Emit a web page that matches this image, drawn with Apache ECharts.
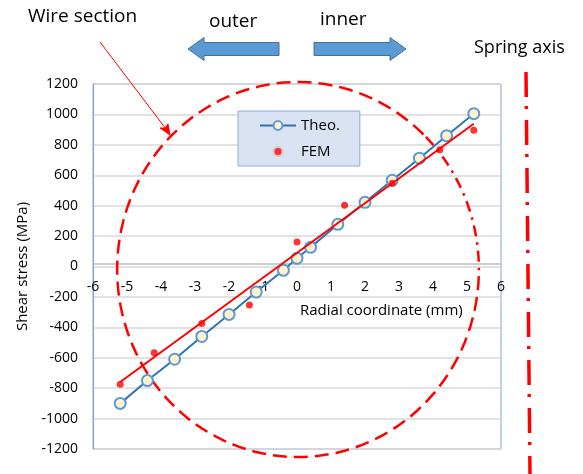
<!DOCTYPE html>
<html>
<head>
<meta charset="utf-8">
<script src="https://cdn.jsdelivr.net/npm/echarts@6/dist/echarts.min.js"></script>
<style>
html,body{margin:0;padding:0;background:#fff;}
#chart{width:583px;height:474px;}
</style>
</head>
<body>
<div id="chart"></div>
<script>
// ---- data ----
const xTheo = [-5.2, -4.4, -3.6, -2.8, -2.0, -1.2, -0.4, 0, 0.4, 1.2, 2.0, 2.8, 3.6, 4.4, 5.2];
const yTheo = [-900, -750, -610, -460, -315, -168, -25, 54, 126, 277, 422, 567, 712, 860, 1005];
const xFem = [-5.2, -4.2, -2.8, -1.4, 0, 1.4, 2.8, 4.2, 5.2];
const yFem = [-775, -567, -374, -253, 161, 403, 547, 768, 896];
const xTickLabels = ['-6','-5','-4','-3','-2','-1','0','1','2','3','4','5','6'];
const yTickLabels = ['-1200','-1000','-800','-600','-400','-200','0','200','400','600','800','1000','1200'];
const seriesNames = ['Theo.', 'FEM'];
const xAxisTitle = 'Radial coordinate (mm)';
const yAxisTitle = 'Shear stress (MPa)';
const notes = ['Wire section', 'outer', 'inner', 'Spring axis'];

// linear trendline for FEM (least squares)
function fit(xs, ys) {
  const n = xs.length;
  const mx = xs.reduce((a, b) => a + b, 0) / n;
  const my = ys.reduce((a, b) => a + b, 0) / n;
  let sxy = 0, sxx = 0;
  for (let i = 0; i < n; i++) { sxy += (xs[i] - mx) * (ys[i] - my); sxx += (xs[i] - mx) ** 2; }
  const b = sxy / sxx, a = my - b * mx;
  const x0 = Math.min(...xs), x1 = Math.max(...xs);
  return [[x0, a + b * x0], [x1, a + b * x1]];
}
const trend = fit(xFem, yFem);

const FONT = 'Open Sans';
const GRID = {left: 93, right: 82, top: 84, bottom: 25};
const chart = echarts.init(document.getElementById('chart'), null, {renderer: 'canvas'});
chart.setOption({
  animation: false,
  backgroundColor: '#fff',
  textStyle: {fontFamily: FONT},
  grid: Object.assign({show: true, borderColor: '#7ea6d8', borderWidth: 1, backgroundColor: 'transparent'}, GRID),
  xAxis: {
    type: 'value', min: -6, max: 6, interval: 1,
    axisLine: {onZero: false, lineStyle: {color: '#bfbfbf', width: 1.5}},
    axisTick: {show: false},
    splitLine: {show: false},
    axisLabel: {color: '#000', fontSize: 14, margin: 16, fontFamily: FONT,
      formatter: (v) => xTickLabels[Math.round(v) + 6]}
  },
  yAxis: {
    type: 'value', min: -1200, max: 1200, interval: 200,
    axisLine: {show: true, onZero: false, lineStyle: {color: '#7ea6d8', width: 1}},
    axisTick: {show: false},
    splitLine: {lineStyle: {color: '#d9d9d9', width: 1.5}},
    axisLabel: {color: '#000', fontSize: 14, margin: 15, fontFamily: FONT,
      formatter: (v) => yTickLabels[Math.round((v + 1200) / 200)]},
    name: yAxisTitle, nameLocation: 'middle', nameGap: 58,
    nameTextStyle: {color: '#000', fontSize: 15, fontFamily: FONT}
  },
  legend: {
    data: [
      {name: seriesNames[0]},
      {name: seriesNames[1], itemStyle: {color: '#ff0000', borderColor: '#dae3f3', borderWidth: 4}}
    ],
    orient: 'vertical', left: 238, top: 111,
    backgroundColor: '#dae3f3', borderColor: '#8eaadb', borderWidth: 1,
    padding: [7, 20, 7, 21], itemGap: 11, itemWidth: 36, itemHeight: 11,
    textStyle: {color: '#000', fontSize: 15, fontFamily: FONT}
  },
  series: [
    {
      name: seriesNames[0], type: 'line', z: 3,
      data: xTheo.map((x, i) => [x, yTheo[i]]),
      symbol: 'circle', symbolSize: 11,
      lineStyle: {color: '#2e75b6', width: 2},
      itemStyle: {color: '#fff2cc', borderColor: '#5b9bd5', borderWidth: 2}
    },
    {
      name: 'trend', type: 'line', z: 4, data: trend, symbol: 'none',
      lineStyle: {color: '#ff0000', width: 2}, silent: true
    },
    {
      name: seriesNames[1], type: 'scatter', z: 5,
      data: xFem.map((x, i) => [x, yFem[i]]),
      symbol: 'circle', symbolSize: 7,
      itemStyle: {color: '#ff0000'}
    }
  ]
});

// place the x axis on y = 0 (crossing point read through the y scale)
const zeroY = chart.convertToPixel({yAxisIndex: 0}, 0);
const bottomY = chart.getHeight() - GRID.bottom;
chart.setOption({xAxis: {offset: zeroY - bottomY}});

// annotations: wire section outline (ellipse in data space)
const c = chart.convertToPixel({gridIndex: 0}, [0.03, -20]);
const e = chart.convertToPixel({gridIndex: 0}, [0.03 + 5.32, -20 + 1233]);
const rx = e[0] - c[0], ry = c[1] - e[1];
function arcPts(a0, a1) {
  const pts = [];
  const n = 120;
  for (let i = 0; i <= n; i++) {
    const t = (a0 + (a1 - a0) * i / n) * Math.PI / 180;
    pts.push([c[0] + rx * Math.cos(t), c[1] + ry * Math.sin(t)]);
  }
  return pts;
}
const blue = '#5b9bd5', blueEdge = '#41719c';
chart.setOption({
  graphic: [
    {type: 'polyline', z: 2, shape: {points: arcPts(2, 315)},
      style: {fill: null, stroke: '#ff0000', lineWidth: 2.5, lineDash: [14, 7]}},
    {type: 'polyline', z: 2, shape: {points: arcPts(-45, 2)},
      style: {fill: null, stroke: '#ff0000', lineWidth: 2.5, lineDash: [11, 6, 2.5, 6]}},
    {type: 'line', z: 100, shape: {x1: 526, y1: 72, x2: 530, y2: 474},
      style: {stroke: '#ff0000', lineWidth: 3.5, lineDash: [25, 9, 3, 11]}},
    {type: 'line', z: 100, shape: {x1: 100, y1: 42, x2: 166, y2: 129},
      style: {stroke: '#ff0000', lineWidth: 1}},
    {type: 'polygon', z: 100, shape: {points: [[170, 135], [160, 128], [165, 128], [168, 124]]},
      style: {fill: '#ff0000', stroke: '#ff0000', lineWidth: 1}},
    {type: 'polygon', z: 100, shape: {points: [[188, 49], [204, 37.5], [204, 42.5], [279, 42.5], [279, 55.5], [204, 55.5], [204, 60.5]]},
      style: {fill: blue, stroke: blueEdge, lineWidth: 1}},
    {type: 'polygon', z: 100, shape: {points: [[406, 49], [390, 37.5], [390, 42.5], [314, 42.5], [314, 55.5], [390, 55.5], [390, 60.5]]},
      style: {fill: blue, stroke: blueEdge, lineWidth: 1}},
    {type: 'text', z: 100, left: 28, top: 7, style: {text: notes[0], fill: '#000', font: '19px "Open Sans"'}},
    {type: 'text', z: 100, left: 209, top: 12, style: {text: notes[1], fill: '#000', font: '19px "Open Sans"'}},
    {type: 'text', z: 100, left: 320, top: 10, style: {text: notes[2], fill: '#000', font: '19px "Open Sans"'}},
    {type: 'text', z: 100, left: 474, top: 39, style: {text: notes[3], fill: '#000', font: '18px "Open Sans"'}},
    {type: 'text', z: 100, left: 300, top: 303, style: {text: xAxisTitle, fill: '#000', font: '15px "Open Sans"'}}
  ]
});
</script>
</body>
</html>
